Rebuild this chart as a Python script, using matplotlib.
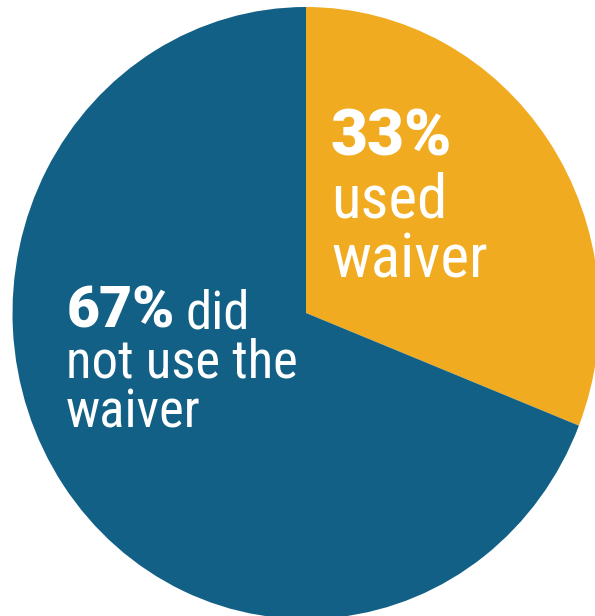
import matplotlib
matplotlib.use("Agg")
import matplotlib.pyplot as plt

# wedge shares as drawn in the picture, with their printed labels
groups = ["used waiver", "did not use the waiver"]
shares = [31, 69]
pct_labels = ["33%", "67%"]
colors = ["#F1AB20", "#126086"]

W, H = 595, 616
fig = plt.figure(figsize=(W / 100, H / 100), dpi=100)
ax = fig.add_axes([0, 0, 1, 1])

ax.pie(shares, colors=colors, startangle=90, counterclock=False,
       radius=1, wedgeprops=dict(linewidth=0))

# pie is slightly taller than wide in the reference
cx, cy, rx, ry = 306, 313, 293.5, 306
ax.set_aspect("auto")
ax.set_xlim(-cx / rx, (W - cx) / rx)
ax.set_ylim(-(H - cy) / ry, cy / ry)
ax.axis("off")

reg_fam = ["Roboto Condensed", "DejaVu Sans"]
bold_fam = ["Roboto", "DejaVu Sans"]


def px(x, y):
    return x / W, 1 - y / H


def put(x, y, s, bold=False, size=44):
    return fig.text(*px(x, y), s, transform=fig.transFigure, color="white",
                    fontsize=size, fontweight=900 if bold else "normal",
                    family=bold_fam if bold else reg_fam,
                    ha="left", va="baseline")


# orange slice label
put(331, 155, pct_labels[0], bold=True, size=46)
put(331, 218, "used")
put(331, 278, "waiver")

# blue slice label (a bit smaller)
bs = 38
t67 = put(67, 327, pct_labels[1], bold=True, size=41)
ax.annotate("did", xy=(1, 0), xycoords=t67, xytext=(7, 0),
            textcoords="offset points", color="white", fontsize=bs,
            family=reg_fam, ha="left", va="bottom")
put(66, 377, "not use the", size=bs)
put(66, 428, "waiver", size=bs)

fig.savefig("out.png", dpi=100)
